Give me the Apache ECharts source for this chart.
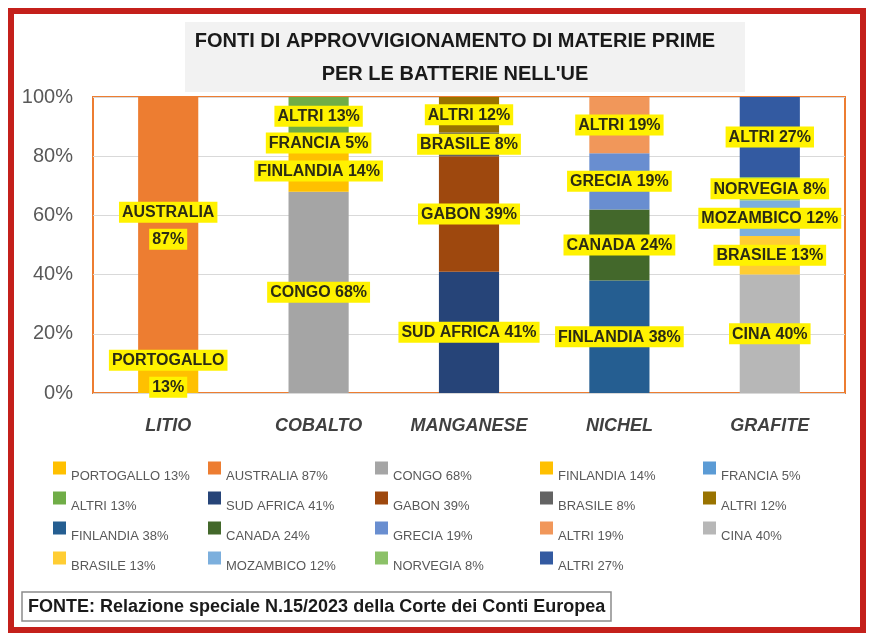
<!DOCTYPE html>
<html>
<head>
<meta charset="utf-8">
<script src="https://cdn.jsdelivr.net/npm/echarts@6/dist/echarts.min.js"></script>
<style>
  html, body { margin: 0; padding: 0; background: #fff; }
  #main { width: 869px; height: 635px; }
</style>
</head>
<body>
<div id="main"></div>
<script>
const categories = ["LITIO", "COBALTO", "MANGANESE", "NICHEL", "GRAFITE"];
const yTicks = [0, 20, 40, 60, 80, 100];

const seriesNames = [
  "PORTOGALLO 13%", "AUSTRALIA 87%", "CONGO 68%", "FINLANDIA 14%", "FRANCIA 5%",
  "ALTRI 13%", "SUD AFRICA 41%", "GABON 39%", "BRASILE 8%", "ALTRI 12%",
  "FINLANDIA 38%", "CANADA 24%", "GRECIA 19%", "ALTRI 19%", "CINA 40%",
  "BRASILE 13%", "MOZAMBICO 12%", "NORVEGIA 8%", "ALTRI 27%"
];
// which category each series belongs to
const seriesCategory = [0, 0, 1, 1, 1, 1, 2, 2, 2, 2, 3, 3, 3, 3, 4, 4, 4, 4, 4];
const seriesValues = [13, 87, 68, 14, 5, 13, 41, 39, 8, 12, 38, 24, 19, 19, 40, 13, 12, 8, 27];
const seriesColors = [
  "#FFC000", "#ED7D31", "#A5A5A5", "#FFC000", "#5B9BD5",
  "#70AD47", "#264478", "#9E480E", "#636363", "#997300",
  "#255E91", "#43682B", "#698ED0", "#F1975A", "#B7B7B7",
  "#FFCD33", "#7CAFDD", "#8CC168", "#335AA1"
];

const FONT = "Liberation Sans, Arial, sans-serif";

const series = seriesNames.map(function (name, i) {
  const data = categories.map(function (c, j) {
    return j === seriesCategory[i] ? seriesValues[i] : null;
  });
  return {
    name: name,
    type: "bar",
    stack: "total",
    barWidth: "40%",
    data: data,
    itemStyle: { color: seriesColors[i] },
    label: {
      show: true,
      position: "inside",
      formatter: function (p) {
        if (p.dataIndex === 0) {
          return p.seriesName.split(" ").map(function (s) { return "{h|" + s + "}"; }).join("\n");
        }
        return "{h|" + p.seriesName + "}";
      },
      rich: {
        h: {
          backgroundColor: "#FFF200",
          padding: [3, 3, 2, 3],
          fontWeight: "bold",
          fontSize: 16,
          fontFamily: FONT,
          color: "#2b2b14",
          lineHeight: 27
        }
      }
    }
  };
});

// legend: 5 columns, filled row by row
const legendLeft = [53, 208, 375, 540, 703];
const legends = legendLeft.map(function (x, col) {
  return {
    orient: "vertical",
    left: x,
    top: 453,
    padding: 0,
    itemWidth: 13,
    itemHeight: 13,
    itemGap: 0,
    icon: "rect",
    selectedMode: false,
    data: seriesNames.filter(function (n, i) { return i % 5 === col; }),
    formatter: function (name) { return "{t|" + name + "}"; },
    textStyle: {
      color: "#595959",
      fontSize: 13,
      fontFamily: FONT,
      rich: {
        t: { color: "#595959", fontSize: 13, fontFamily: FONT, padding: [17, 0, 0, 0], lineHeight: 15 }
      }
    }
  };
});

const option = {
  animation: false,
  backgroundColor: "#fff",
  title: [
    {
      text: "FONTI DI APPROVVIGIONAMENTO DI MATERIE PRIME\nPER LE BATTERIE NELL'UE",
      left: 455,
      textAlign: "center",
      top: 25,
      padding: 0,
      textStyle: {
        fontSize: 20,
        fontWeight: "bold",
        fontFamily: FONT,
        color: "#1a1a1a",
        lineHeight: 33
      }
    },
    {
      text: "FONTE: Relazione speciale N.15/2023 della Corte dei Conti Europea",
      left: 22,
      top: 592,
      padding: [6, 6, 5, 6],
      borderColor: "#8c8c8c",
      borderWidth: 1.5,
      backgroundColor: "#fff",
      textStyle: {
        fontSize: 18,
        fontWeight: "bold",
        fontFamily: FONT,
        color: "#1a1a1a"
      }
    }
  ],
  graphic: [
    {
      type: "rect",
      z: -10,
      shape: { x: 185, y: 22, width: 560, height: 70 },
      style: { fill: "#F2F2F2" }
    },
    {
      type: "rect",
      z: 100,
      shape: { x: 11, y: 11, width: 852, height: 619 },
      style: { fill: null, stroke: "#C4201B", lineWidth: 6 }
    }
  ],
  legend: legends,
  grid: {
    left: 93,
    right: 24,
    top: 97,
    bottom: 242,
    show: true,
    borderColor: "#ED7D31",
    borderWidth: 2
  },
  xAxis: {
    type: "category",
    data: categories,
    axisLine: { show: false },
    axisTick: { show: false },
    axisLabel: {
      interval: 0,
      margin: 24,
      fontSize: 18,
      fontWeight: "bold",
      fontStyle: "italic",
      fontFamily: FONT,
      color: "#404040"
    }
  },
  yAxis: {
    type: "value",
    min: yTicks[0],
    max: yTicks[yTicks.length - 1],
    interval: 20,
    axisLine: { show: false },
    axisTick: { show: false },
    splitLine: { lineStyle: { color: "#D9D9D9", width: 1 } },
    axisLabel: {
      formatter: "{value}%",
      margin: 20,
      fontSize: 20,
      fontFamily: FONT,
      color: "#595959"
    }
  },
  series: series
};

const chart = echarts.init(document.getElementById("main"));
chart.setOption(option);
</script>
</body>
</html>
